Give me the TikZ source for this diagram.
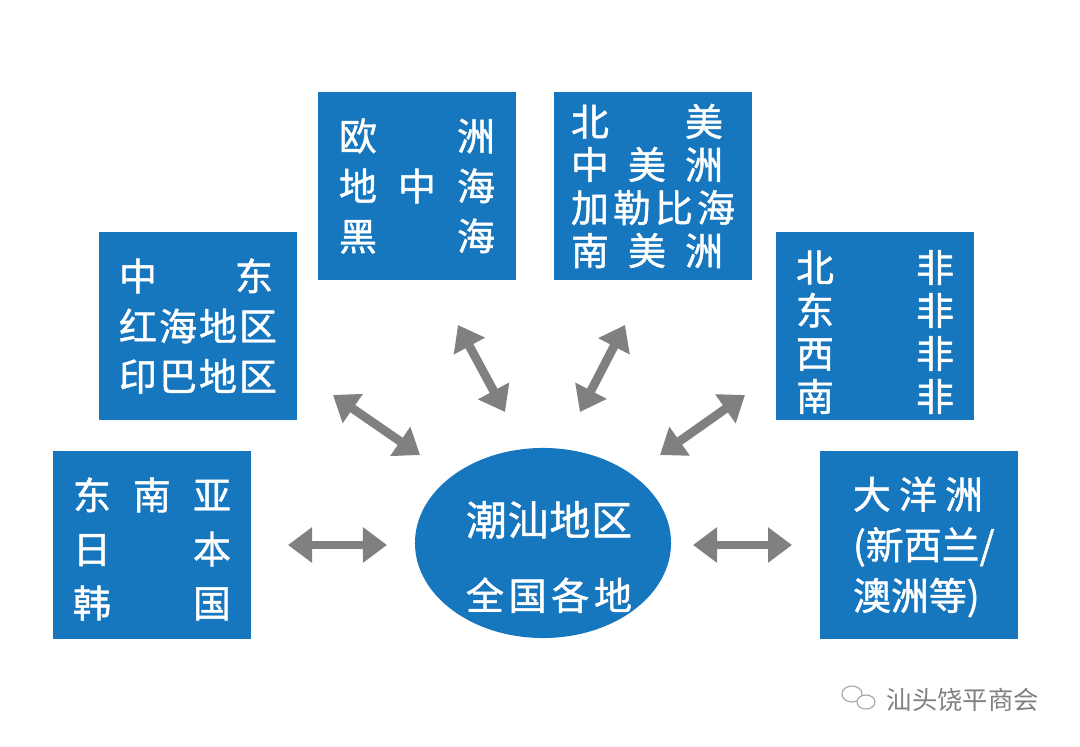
\documentclass[tikz,border=0pt]{standalone}
\usepackage{fontspec}
\setmainfont{Noto Sans CJK SC}[FakeBold=1.2]
\usetikzlibrary{arrows.meta,calc,positioning,shapes.geometric}
\definecolor{regionblue}{RGB}{22,118,190}
\definecolor{arrowgray}{RGB}{128,128,128}
\newfontfamily\markfont{Noto Sans CJK SC}
\newcommand{\spreadline}[2]{\makebox[#1][s]{#2}}
\tikzset{
  region/.style={fill=regionblue,minimum width=4.95cm,minimum height=4.675cm,inner sep=0pt},
  regiontext/.style={text=white,align=left,inner sep=0pt,font=\fontsize{27}{#1}\selectfont},
  fatarrow/.style={draw=arrowgray,line width=0.22cm,
    {Triangle[length=0.6cm,width=0.85cm]}-{Triangle[length=0.6cm,width=0.85cm]}},
}
\begin{document}
\begin{tikzpicture}[x=0.025cm,y=-0.025cm]
    \useasboundingbox[fill=white] (0,0) rectangle (1080,747);

    % regions
    \node[region] (EU) at (417,186) {};
    \node[regiontext=35.6pt] at (EU.center) {\spreadline{3.9cm}{欧\hfill{}洲}\\\spreadline{3.9cm}{地\hfill{}中\hfill{}海}\\\spreadline{3.9cm}{黑\hfill{}海}};
    \node[region] (AM) at (653,186) {};
    \node[regiontext=30.6pt] at (AM.center) {\spreadline{3.8cm}{北\hfill{}美}\\\spreadline{3.8cm}{中\hfill{}美\hfill{}洲}\\\spreadline{4.1cm}{加\hfill{}勒\hfill{}比\hfill{}海}\\\spreadline{3.8cm}{南\hfill{}美\hfill{}洲}};
    \node[region] (ME) at (198,326) {};
    \node[regiontext=35.6pt] at (ME.center) {\spreadline{3.85cm}{中\hfill{}东}\\\spreadline{3.95cm}{红\hfill{}海\hfill{}地\hfill{}区}\\\spreadline{3.95cm}{印\hfill{}巴\hfill{}地\hfill{}区}};
    \node[region] (AF) at (875,326) {};
    \node[regiontext=30.6pt] at ($(AF.center)+(0,6)$) {\spreadline{3.95cm}{北\hfill{}非}\\\spreadline{3.95cm}{东\hfill{}非}\\\spreadline{3.95cm}{西\hfill{}非}\\\spreadline{3.95cm}{南\hfill{}非}};
    \node[region] (SEA) at (152,545) {};
    \node[regiontext=38.4pt] at ($(SEA.center)+(0,4)$) {\spreadline{3.95cm}{东\hfill{}南\hfill{}亚}\\\spreadline{3.95cm}{日\hfill{}本}\\\spreadline{3.95cm}{韩\hfill{}国}};
    \node[region] (OC) at (919,545) {};
    \node[regiontext=36pt,anchor=west] at ($(OC.west)+(33,2)$) {\spreadline{3.25cm}{大\hfill{}洋\hfill{}洲}\\\spreadline{3.3cm}{(新西兰/}\\\spreadline{3.05cm}{澳洲等)}};

    % home region
    \node[ellipse,fill=regionblue,minimum width=6.4cm,minimum height=4.75cm,inner sep=0pt] (HOME) at (543,543) {};
    \node[regiontext=53pt,align=center] at ($(HOME.center)+(6,14)$) {\fontsize{29}{53}\selectfont\spreadline{4.15cm}{潮\hfill{}汕\hfill{}地\hfill{}区}\\\spreadline{4.15cm}{全\hfill{}国\hfill{}各\hfill{}地}};

    % arrows
    \coordinate (L1) at (288,545); \coordinate (L2) at (387,545);
    \coordinate (R1) at (693,545); \coordinate (R2) at (792,545);
    \coordinate (UL1) at (333,395); \coordinate (UL2) at (420,455);
    \coordinate (UC1) at (458,325); \coordinate (UC2) at (505,412);
    \coordinate (UR1) at (625,325); \coordinate (UR2) at (580,412);
    \coordinate (RR1) at (745,395); \coordinate (RR2) at (660,455);
    \foreach \a/\b in {L1/L2,R1/R2,UL1/UL2,UC1/UC2,UR1/UR2,RR1/RR2}
        \draw[fatarrow] (\a) -- (\b);

    % watermark
    \draw[gray!70,line width=0.8pt] (852,694) ellipse [x radius=10,y radius=8];
    \draw[gray!70,line width=0.8pt,fill=white] (866,702) ellipse [x radius=9,y radius=7];
    \node[text=gray,anchor=west,font=\markfont\fontsize{18}{20}\selectfont] (WM) at (882,700) {汕头饶平商会};
\end{tikzpicture}
\end{document}
